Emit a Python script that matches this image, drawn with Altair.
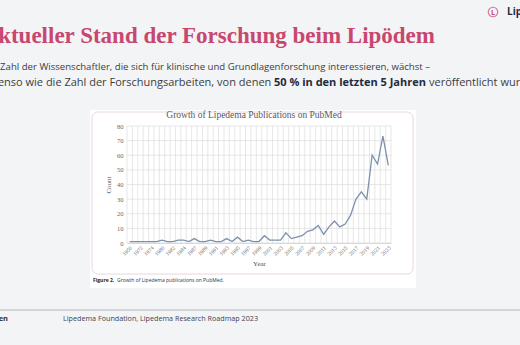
import altair as alt
import pandas as pd

# ---------------- data ----------------
years = ["1950", "1965", "1972", "1973", "1974", "1977", "1980", "1981", "1982", "1983",
         "1984", "1986", "1987", "1988", "1989", "1990", "1991", "1992", "1993", "1994",
         "1995", "1996", "1997", "1998", "1999", "2000", "2001", "2002", "2003", "2004",
         "2005", "2006", "2007", "2008", "2009", "2010", "2011", "2012", "2013", "2014",
         "2015", "2016", "2017", "2018", "2019", "2020", "2021", "2022", "2023"]
counts = [1, 1, 1, 1, 1, 1, 2, 1, 1, 2,
          2, 1, 3, 1, 1, 2, 1, 1, 3, 1,
          4, 1, 2, 1, 1, 5, 2, 2, 2, 7,
          3, 4, 5, 8, 9, 12, 6, 11, 15, 11,
          13, 19, 30, 35, 30, 60, 54, 73, 53]
label_years = years[::2]
y_ticks = [0, 10, 20, 30, 40, 50, 60, 70, 80]

slide_title = "Aktueller Stand der Forschung beim Lipödem"
body_line1 = "Die Zahl der Wissenschaftler, die sich für klinische und Grundlagenforschung interessieren, wächst –"
body_line2 = ["ebenso wie die Zahl der Forschungsarbeiten, von denen",
              "50 % in den letzten 5 Jahren", "veröffentlicht wurden."]
chart_title = "Growth of Lipedema Publications on PubMed"
caption_bold = "Figure 2."
caption_rest = "Growth of Lipedema publications on PubMed."
footer_left = "Quellen"
footer_source = "Lipedema Foundation, Lipedema Research Roadmap 2023"
logo_text = "Lipedema"

df = pd.DataFrame({"year": years, "count": counts})

# ---------------- layout ----------------
X0, Y0 = 127, 126          # plot origin in page pixels
W, H = 264, 117
SERIF = "Liberation Serif"
SANS = "Open Sans"

xscale = alt.Scale(type="band", domain=years, paddingInner=0, paddingOuter=0)
yscale = alt.Scale(domain=[0, 80], nice=False)

xaxis = alt.Axis(values=label_years, labelAngle=-45, grid=False, ticks=False,
                 domain=True, domainColor="#d0d0d0", domainWidth=0.8,
                 labelFont=SERIF, labelFontSize=5.5, labelColor="#666666",
                 labelPadding=2, bandPosition=0.5,
                 title="Year", titleFont=SERIF, titleFontSize=7,
                 titleFontWeight="normal", titleColor="#555555",
                 titlePadding=3, zindex=2)
yaxis = alt.Axis(values=y_ticks, grid=False, ticks=False, domain=False,
                 labelFont=SERIF, labelFontSize=6.5, labelColor="#666666",
                 labelPadding=4,
                 title="Count", titleFont=SERIF, titleFontSize=7,
                 titleFontWeight="normal", titleColor="#555555",
                 titlePadding=5, zindex=2)


def px(x):
    return alt.value(x - X0)


def py(y):
    return alt.value(y - Y0)


def txt(s, x, y, **kw):
    return alt.Chart(pd.DataFrame({"t": [s]})).mark_text(**kw).encode(
        x=px(x), y=py(y), text="t:N")


def box(x1, x2, y1, y2, **kw):
    return alt.Chart(pd.DataFrame({"k": [0]})).mark_rect(**kw).encode(
        x=px(x1), x2=px(x2), y=py(y1), y2=py(y2))


line = alt.Chart(df).mark_line(color="#7d91aa", strokeWidth=1.3).encode(
    x=alt.X("year:O", scale=xscale, bandPosition=0.5, sort=years, axis=xaxis),
    y=alt.Y("count:Q", scale=yscale, axis=yaxis),
)

hgrid = alt.Chart(pd.DataFrame({"count": y_ticks})).mark_rule(
    color="#dcdcdc", strokeWidth=0.7).encode(
    y=alt.Y("count:Q", scale=yscale, axis=yaxis),
    x=alt.value(0), x2=alt.value(W))

vgrid = alt.Chart(pd.DataFrame({"year": years})).mark_rule(
    color="#dcdcdc", strokeWidth=0.7).encode(
    x=alt.X("year:O", scale=xscale, bandPosition=0, sort=years, axis=xaxis),
    y=alt.value(0), y2=alt.value(H))
vgrid_end = alt.Chart(pd.DataFrame({"k": [0]})).mark_rule(
    color="#dcdcdc", strokeWidth=0.7).encode(
    x=alt.value(W), y=alt.value(0), y2=alt.value(H))

white_fig = box(90, 416, 110, 288, fill="white")
card = box(92, 413, 112, 274, fill="white", stroke="#e7d6db", strokeWidth=1, cornerRadius=6)

BODY1 = dict(font=SANS, fontSize=9.6, color="#3a3d42", baseline="alphabetic")
BODY2 = dict(font=SANS, fontSize=11, color="#3a3d42", baseline="alphabetic")

layers = [
    white_fig, card, hgrid, vgrid, vgrid_end, line,
    txt(chart_title, 254, 115, font=SERIF, fontSize=9.5, color="#595959",
        align="center", baseline="middle"),
    txt(caption_bold, 93, 280, font=SANS, fontSize=5, fontWeight="bold", color="#222222",
        align="left", baseline="middle"),
    txt(caption_rest, 117, 280, font=SANS, fontSize=5, color="#333333",
        align="left", baseline="middle"),
    # slide texts
    txt(slide_title, 435, 43, font=SERIF, fontSize=23, fontWeight="bold", color="#c8476f",
        align="right", baseline="alphabetic"),
    txt(body_line1, 430, 70, align="right", **BODY1),
    txt(body_line2[0], -15, 86, align="left", **BODY2),
    txt(body_line2[1], 274, 86, align="left", font=SANS, fontSize=11, fontWeight="bold",
        color="#1f2b3d", baseline="alphabetic"),
    txt(body_line2[2], 429, 86, align="left", **BODY2),
    # footer
    alt.Chart(pd.DataFrame({"k": [0]})).mark_rule(color="#b3b7bd", strokeWidth=1).encode(
        x=px(0), x2=px(520), y=py(310)),
    txt(footer_left, 8, 319, font=SANS, fontSize=7.5, fontWeight="bold", color="#2b3340",
        align="right", baseline="middle"),
    txt(footer_source, 63, 319, font=SANS, fontSize=7.2, color="#3f444b",
        align="left", baseline="middle"),
    # logo
    alt.Chart(pd.DataFrame({"k": [0]})).mark_point(shape="circle", filled=False,
                                                   color="#c8476f", strokeWidth=1.2,
                                                   size=90).encode(x=px(493), y=py(12)),
    txt("L", 493, 12.5, font=SANS, fontSize=7, fontWeight="bold", color="#c8476f",
        align="center", baseline="middle"),
    txt(logo_text, 507, 12, font=SANS, fontSize=10, fontWeight="bold", color="#1f2b3d",
        align="left", baseline="middle"),
]

chart = alt.layer(*layers).properties(
    width=W, height=H,
    autosize=alt.AutoSizeParams(type="none"),
    padding={"left": X0, "top": Y0, "right": 520 - X0 - W, "bottom": 345 - Y0 - H},
).configure(background="#f3f4f6").configure_view(stroke=None)

chart.save("out.html", embed_options={"renderer": "svg", "actions": False})
